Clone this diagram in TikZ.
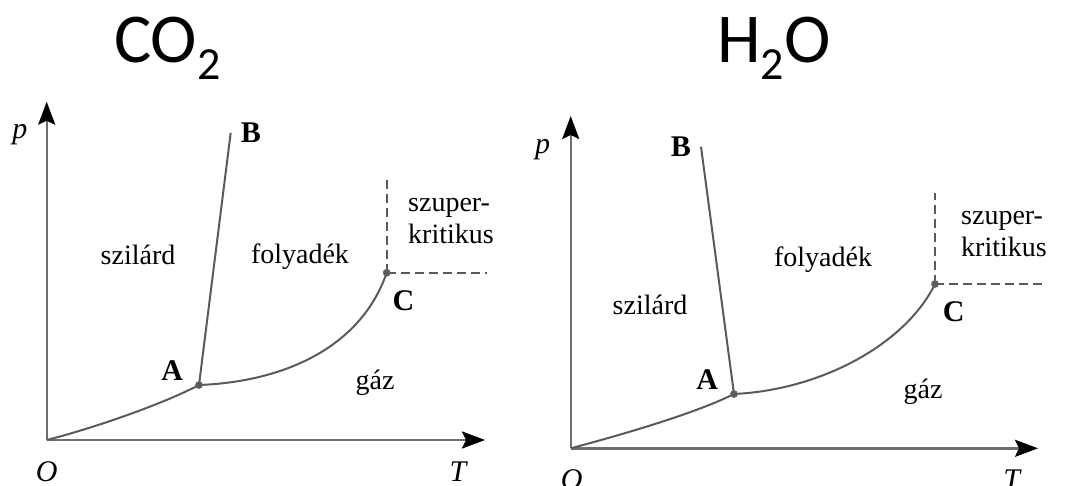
\documentclass[tikz,border=0pt]{standalone}
\usepackage{fontspec}
\setmainfont{Liberation Serif}
\newfontfamily\titlefont{Carlito}
\usetikzlibrary{positioning, arrows.meta}
\definecolor{axisgray}{HTML}{6E6E6E}
\definecolor{curvegray}{HTML}{5A5A5A}

\begin{document}
\begin{tikzpicture}[
    x=1pt, y=-1pt,
    axis/.style={draw=axisgray, line width=2.4pt, -{Stealth[length=23pt, width=17pt, inset=4pt, color=black]}},
    curve/.style={draw=curvegray, line width=2pt},
    border/.style={draw=curvegray, line width=1.6pt, dash pattern=on 9pt off 5pt},
    dot/.style={circle, fill=curvegray, draw=axisgray, line width=0.8pt, inner sep=0pt, minimum size=7pt},
    phase/.style={font=\fontsize{28}{32}\selectfont, inner sep=0pt, align=left},
    point/.style={font=\fontsize{30}{30}\selectfont\bfseries, inner sep=0pt},
    axislabel/.style={font=\fontsize{30}{30}\selectfont\itshape, inner sep=0pt},
    title/.style={font=\titlefont\fontsize{70}{70}\selectfont, inner sep=0pt, anchor=base west},
]
  \useasboundingbox (0,0) rectangle (1067,486);

  % CO2
  \node[title] (co2) at (114,63) {CO\raisebox{-17pt}{\fontsize{46}{46}\selectfont 2}};
  \coordinate (O1) at (46.7,440);
  \coordinate (P1) at (46.7,101.7);
  \coordinate (T1) at (485,440);
  \coordinate (A1) at (199,385);
  \coordinate (B1) at (230.7,132.7);
  \coordinate (C1) at (386.7,272.7);
  \coordinate (V1) at (386.7,180);
  \coordinate (H1) at (486.7,272.7);
  \draw[axis] (O1) -- (P1);
  \draw[axis] (O1) -- (T1);
  \draw[curve] (O1) .. controls (86.7,430) and (159,406) .. (A1);
  \draw[curve] (A1) .. controls (280,382) and (360,350) .. (C1);
  \draw[curve] (A1) -- (B1);
  \draw[border] (C1) -- (V1);
  \draw[border] (C1) -- (H1);
  \node[dot] (dotA1) at (A1) {};
  \node[dot] (dotC1) at (C1) {};
  \node[point, right=10pt of B1] (labB1) {B};
  \node[point, above left=2pt and 13pt of dotA1] (labA1) {A};
  \node[point, below right=15pt and 3pt of dotC1] (labC1) {C};
  \node[axislabel] (p1) at (20,135) {p};
  \node[axislabel] (o1) at (46.7,472) {O};
  \node[axislabel] (t1) at (458,471.5) {T};
  \node[phase] (sol1) at (138,255) {szilárd};
  \node[phase] (liq1) at (300,257) {folyadék};
  \node[phase] (gas1) at (375,383) {gáz};
  \node[phase, anchor=west] (sup1) at (408,221) {szuper-\\kritikus};

  % H2O
  \node[title] (h2o) at (717,63) {H\raisebox{-17pt}{\fontsize{46}{46}\selectfont 2}O};
  \coordinate (O2) at (570.7,448.3);
  \coordinate (P2) at (570.7,116);
  \coordinate (T2) at (1038,448.3);
  \coordinate (A2) at (734,394);
  \coordinate (B2) at (701,146.7);
  \coordinate (C2) at (935,284);
  \coordinate (V2) at (935,193.3);
  \coordinate (H2) at (1041.7,284);
  \draw[axis] (O2) -- (P2);
  \draw[axis] (O2) -- (T2);
  \draw[curve] (O2) .. controls (613,437) and (692,415) .. (A2);
  \draw[curve] (A2) .. controls (820,390) and (905,345) .. (C2);
  \draw[curve] (A2) -- (B2);
  \draw[border] (C2) -- (V2);
  \draw[border] (C2) -- (H2);
  \node[dot] (dotA2) at (A2) {};
  \node[dot] (dotC2) at (C2) {};
  \node[point, left=10pt of B2] (labB2) {B};
  \node[point, above left=2pt and 13pt of dotA2] (labA2) {A};
  \node[point, below right=15pt and 5pt of dotC2] (labC2) {C};
  \node[axislabel] (p2) at (542.7,150) {p};
  \node[axislabel] (o2) at (571.7,480) {O};
  \node[axislabel] (t2) at (1011.7,480) {T};
  \node[phase] (sol2) at (650,305) {szilárd};
  \node[phase] (liq2) at (823,260) {folyadék};
  \node[phase] (gas2) at (923,391.7) {gáz};
  \node[phase, anchor=west] (sup2) at (961,234) {szuper-\\kritikus};
\end{tikzpicture}
\end{document}
